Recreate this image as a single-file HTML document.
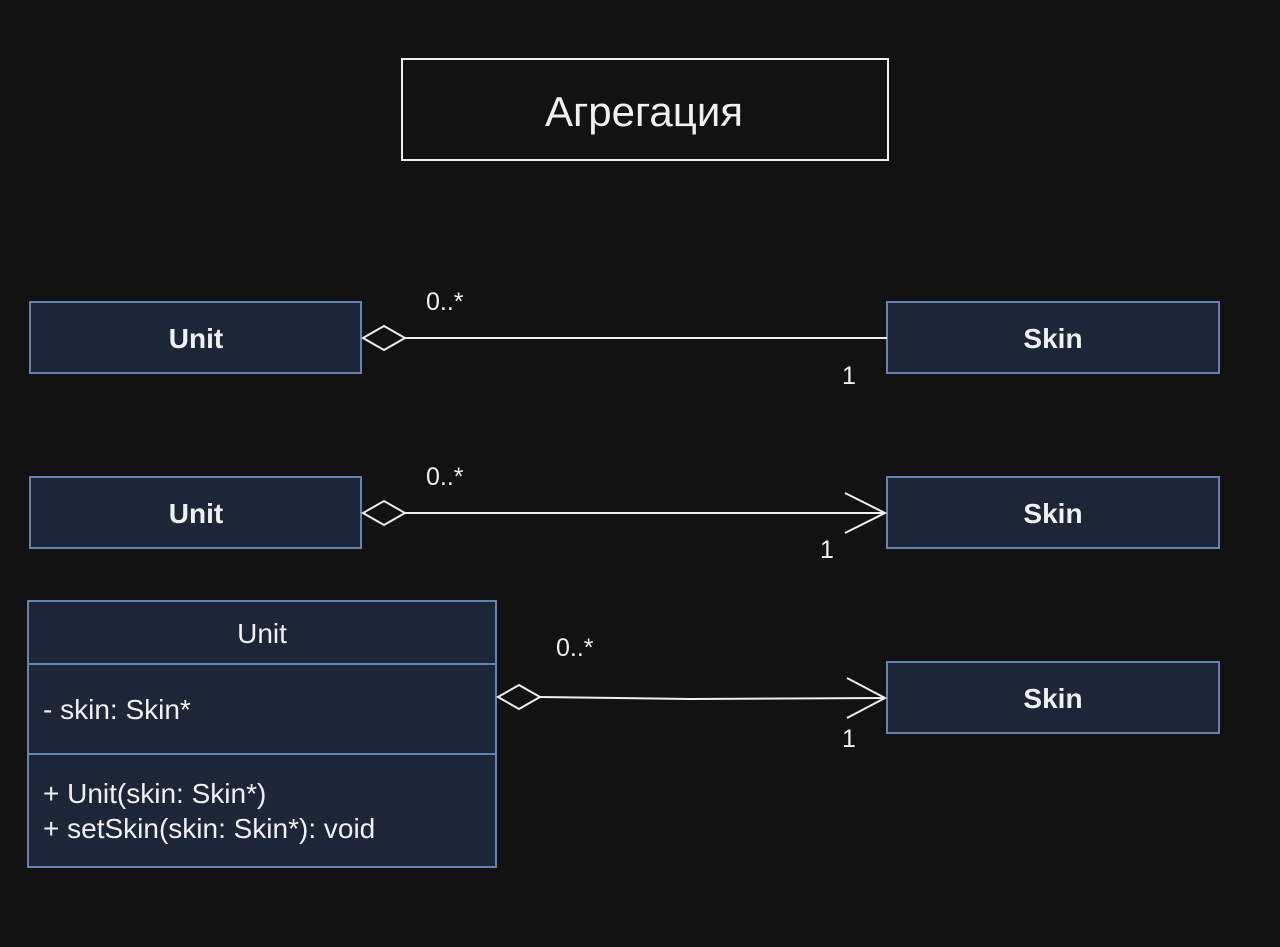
<!DOCTYPE html>
<html><head><meta charset="utf-8"><style>
html,body{margin:0;padding:0;background:#121212;}
svg{display:block;}
text{font-family:"Liberation Sans",Arial,sans-serif;fill:#f0f0f0;}
</style></head><body>
<svg width="1280" height="947" viewBox="0 0 1280 947" xmlns="http://www.w3.org/2000/svg">
<rect x="0" y="0" width="1280" height="947" fill="#121212"/>
<rect x="402" y="59" width="486" height="101" fill="none" stroke="#f0f0f0" stroke-width="2"/>
<text x="644" y="126" font-size="42" text-anchor="middle">Агрегация</text>

<g fill="#1d2637" stroke="#6483b3" stroke-width="2">
<rect x="30" y="302" width="331" height="71"/>
<rect x="887" y="302" width="332" height="71"/>
<rect x="30" y="477" width="331" height="71"/>
<rect x="887" y="477" width="332" height="71"/>
<rect x="887" y="662" width="332" height="71"/>
<rect x="28" y="601" width="468" height="266"/>
<line x1="28" y1="664" x2="496" y2="664"/>
<line x1="28" y1="754" x2="496" y2="754"/>
</g>
<g font-size="28" font-weight="bold" text-anchor="middle">
<text x="196" y="348">Unit</text>
<text x="1053" y="348">Skin</text>
<text x="196" y="523">Unit</text>
<text x="1053" y="523">Skin</text>
<text x="1053" y="708">Skin</text>
</g>
<text x="262" y="643" font-size="28" text-anchor="middle">Unit</text>
<text x="43" y="719" font-size="28">- skin: Skin*</text>
<text x="43" y="803" font-size="28">+ Unit(skin: Skin*)</text>
<text x="43" y="838" font-size="28">+ setSkin(skin: Skin*): void</text>

<g stroke="#f0f0f0" stroke-width="2" fill="none">
<path d="M363 338 L384 326 L405 338 L384 350 Z"/>
<line x1="405" y1="338" x2="887" y2="338"/>
<path d="M363 513 L384 501 L405 513 L384 525 Z"/>
<line x1="405" y1="513" x2="885" y2="513"/>
<path d="M845 493 L885 513 L845 533"/>
<path d="M498 697 L519 685 L540 697 L519 709 Z"/>
<path d="M540 697 L690 699 L885 698"/>
<path d="M847 678 L885 698 L847 718"/>
</g>
<g font-size="25">
<text x="426" y="310">0..*</text>
<text x="842" y="384">1</text>
<text x="426" y="485">0..*</text>
<text x="820" y="558">1</text>
<text x="556" y="656">0..*</text>
<text x="842" y="747">1</text>
</g>
</svg>
</body></html>
